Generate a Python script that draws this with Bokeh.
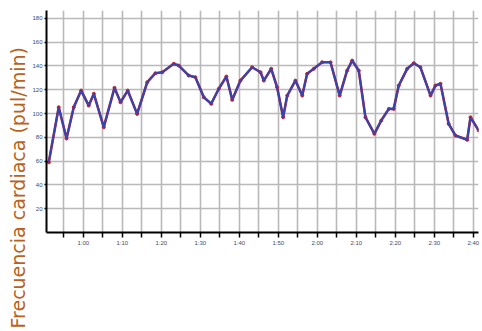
from bokeh.plotting import figure
from bokeh.models import FixedTicker, Range1d, Title
from bokeh.embed import file_html
from bokeh.resources import INLINE

# Time positions (grid units) and heart rate (beats/min)
t = [-0.77, -0.26, 0.14, 0.51, 0.89, 1.28, 1.54, 2.05, 2.60, 2.91, 3.28, 3.76, 4.28, 4.70,
     5.05, 5.64, 5.90, 6.41, 6.75, 7.18, 7.56, 7.95, 8.34, 8.64, 9.06, 9.66, 10.09, 10.26,
     10.64, 10.94, 11.25, 11.46, 11.88, 12.23, 12.48, 12.82, 13.25, 13.68, 14.15, 14.53,
     14.79, 15.13, 15.47, 15.93, 16.28, 16.67, 16.92, 17.18, 17.61, 17.95, 18.29, 18.81,
     19.06, 19.32, 19.74, 20.09, 20.69, 20.86, 21.28]
bpm = [59.1, 105.3, 79.0, 105.3, 119.3, 106.7, 116.6, 88.5, 121.6, 109.5, 119.3, 99.7, 126.3,
       133.9, 134.7, 141.8, 140.3, 131.9, 130.5, 113.7, 108.2, 120.8, 131.1, 111.5, 127.7,
       138.9, 134.7, 127.7, 137.6, 122.1, 96.9, 115.1, 127.7, 115.1, 133.4, 137.6, 143.1,
       143.1, 115.1, 136.1, 144.5, 136.1, 96.9, 82.9, 94.1, 103.9, 103.9, 123.5, 137.6,
       142.3, 138.9, 115.1, 123.5, 125.0, 91.3, 81.5, 77.9, 96.9, 85.7]

y_ticks = [20, 40, 60, 80, 100, 120, 140, 160, 180]
x_ticks = list(range(0, 22))
x_labels = ["1:00", "1:10", "1:20", "1:30", "1:40", "1:50", "2:00", "2:10", "2:20", "2:30", "2:40"]
y_title = "Frecuencia cardiaca (pul/min)"

p = figure(width=482, height=331, output_backend="svg", toolbar_location=None,
           x_range=Range1d(-0.887, 21.27), y_range=Range1d(0, 186.6),
           min_border_left=46, min_border_right=4, min_border_top=10, min_border_bottom=99)
p.outline_line_color = None
p.background_fill_color = "white"

p.xaxis.ticker = FixedTicker(ticks=x_ticks)
overrides = {}
for tk in x_ticks:
    overrides[tk] = x_labels[(tk - 1) // 2] if tk % 2 == 1 else ""
p.xaxis.major_label_overrides = overrides
p.yaxis.ticker = FixedTicker(ticks=y_ticks)

for ax in (p.xaxis[0], p.yaxis[0]):
    ax.axis_line_color = "black"
    ax.axis_line_width = 2
    ax.major_tick_line_color = "black"
    ax.major_tick_line_width = 1.5
    ax.minor_tick_line_color = None
    ax.major_label_text_font_size = "6px"
    ax.major_label_text_color = "#3a4a6a"
    ax.major_label_text_font = "Liberation Sans"
p.xaxis.major_tick_out = 5
p.xaxis.major_tick_in = 0
p.yaxis.major_tick_out = 2
p.yaxis.major_tick_in = 0
p.xaxis.major_label_standoff = 2
p.yaxis.major_label_standoff = 2

p.xgrid.ticker = FixedTicker(ticks=x_ticks)
p.ygrid.ticker = FixedTicker(ticks=y_ticks)
for g in (p.xgrid[0], p.ygrid[0]):
    g.grid_line_color = "#b9b9b9"
    g.grid_line_width = 1.6

p.line(t, bpm, line_color="#b0283c", line_width=2.6)
p.scatter(t, bpm, size=3, color="#c02030")
p.line(t, bpm, line_color="#3444b0", line_width=2)

ttl = Title(text=y_title, align="left", offset=-96, standoff=2,
            text_font="DejaVu Sans", text_font_size="19px", text_font_style="normal",
            text_color="#b8621b")
p.add_layout(ttl, "left")

open("out.html", "w").write(file_html(p, INLINE))
